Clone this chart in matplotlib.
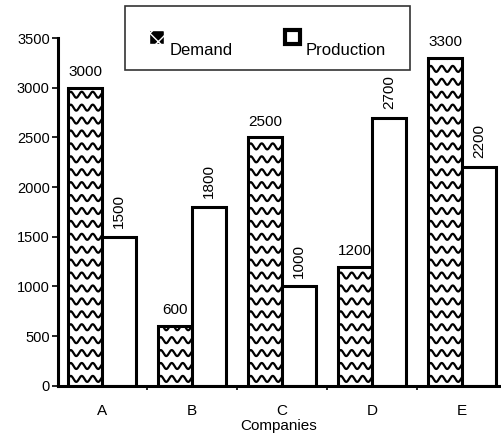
import numpy as np
import matplotlib
matplotlib.use("Agg")
import matplotlib.pyplot as plt
from matplotlib.patches import Rectangle

plt.rcParams['font.family'] = ['Liberation Sans', 'DejaVu Sans']

companies = ['A', 'B', 'C', 'D', 'E']
demand = [3000, 600, 2500, 1200, 3300]
production = [1500, 1800, 1000, 2700, 2200]
y_ticks = [0, 500, 1000, 1500, 2000, 2500, 3000, 3500]

fig = plt.figure(figsize=(5.01, 4.43), dpi=100)
ax = fig.add_axes([0.116, 0.129, 0.882, 0.785])

x = np.arange(len(companies))
w = 0.38
d_bars = ax.bar(x - w / 2, demand, w, color='white', edgecolor='black', linewidth=2.2, zorder=2)
p_bars = ax.bar(x + w / 2, production, w, color='white', edgecolor='black', linewidth=2.2, zorder=2)

# wavy fill for the demand bars, clipped to each bar
for bar in d_bars:
    x0 = bar.get_x()
    h = bar.get_height()
    xs = np.linspace(x0 - 0.05, x0 + w + 0.05, 200)
    for y0 in np.arange(70, h + 60, 130):
        ys = y0 + 30 * np.sin(2 * np.pi * (xs - x0) / 0.122)
        ln, = ax.plot(xs, ys, color='black', linewidth=1.6, zorder=2.5)
        ln.set_clip_path(bar)

for i, v in enumerate(demand):
    ax.text(x[i] - w / 2, v + 90, str(v), ha='center', va='bottom', fontsize=11)
for i, v in enumerate(production):
    ax.text(x[i] + w / 2, v + 90, str(v), ha='center', va='bottom', fontsize=11, rotation=90)

ax.set_xlim(-0.49, 4.42)
ax.set_ylim(0, 3500)
ax.set_yticks(y_ticks)
ax.set_xticks(x)
ax.set_xticklabels(companies, fontsize=11)
ax.set_xticks(x[:-1] + 0.5, minor=True)
ax.tick_params(axis='x', which='major', length=0, pad=13)
ax.tick_params(axis='x', which='minor', length=3, width=1.2, direction='out')
ax.tick_params(axis='y', length=4, width=1.2, labelsize=10.5, direction='out', pad=2)
ax.set_xlabel('Companies', fontsize=11, labelpad=1)

for s in ['top', 'right']:
    ax.spines[s].set_visible(False)
ax.spines['left'].set_linewidth(2.2)
ax.spines['bottom'].set_linewidth(2.2)

h_dem = Rectangle((0, 0), 1, 1, facecolor='black', edgecolor='white', hatch='xx')
h_prod = Rectangle((0, 0), 1, 1, facecolor='white', edgecolor='black', linewidth=3)
leg = fig.legend([h_dem, h_prod], ['Demand', 'Production'], ncol=2,
                 loc='upper left', bbox_to_anchor=(125 / 501, 1 - 6 / 443),
                 borderaxespad=0,
                 frameon=True, fancybox=False, edgecolor='black', fontsize=12,
                 handlelength=0.9, handleheight=0.9, borderpad=1.45,
                 columnspacing=3.1, handletextpad=0.35)
leg.get_frame().set_linewidth(1.2)
for t in leg.get_texts():
    t.set_va('top')

fig.savefig('out.png', dpi=100)
